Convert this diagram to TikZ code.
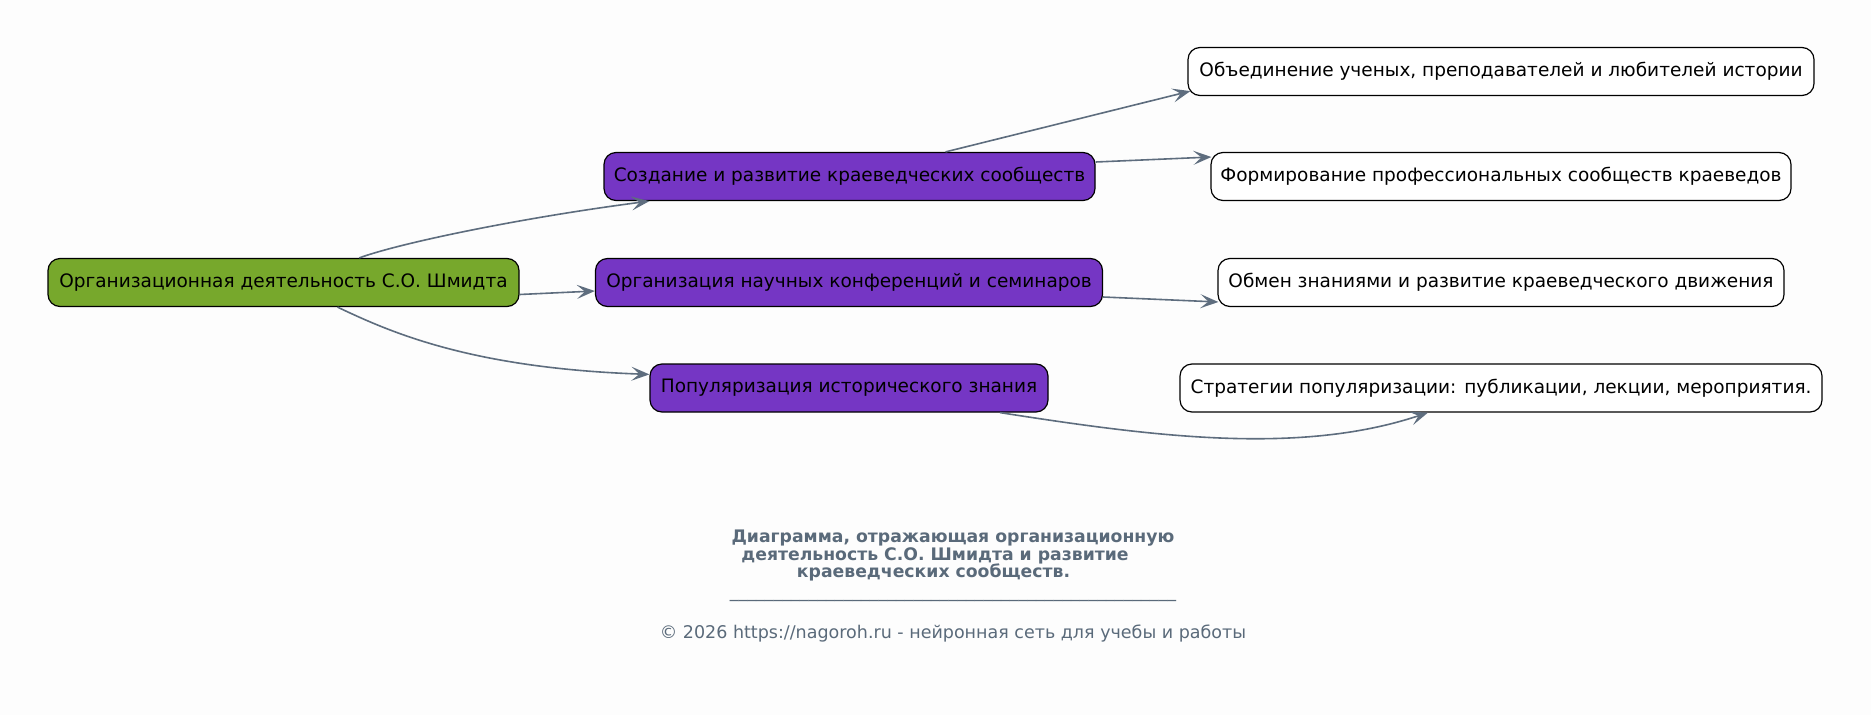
\documentclass[tikz,border=0pt]{standalone}
\usepackage{fontspec}
\setmainfont{DejaVu Sans}
\usetikzlibrary{arrows.meta,calc}
\definecolor{bgc}{RGB}{253,253,253}
\definecolor{rootc}{RGB}{119,168,44}
\definecolor{midc}{RGB}{117,54,196}
\definecolor{edgec}{RGB}{94,109,126}
\definecolor{titlec}{RGB}{90,106,122}
\tikzset{
 box/.style={draw=black, line width=1.2pt, rounded corners=12pt, minimum height=48pt, inner sep=0pt, font=\fontsize{18.5}{22}\selectfont, text=black},
 rootbox/.style={box, fill=rootc},
 midbox/.style={box, fill=midc},
 leafbox/.style={box, fill=white},
 conn/.style={draw=edgec, line width=1.6pt, -{Stealth[length=18pt,width=14pt,inset=8pt]}},
 titletext/.style={text=titlec, font=\fontsize{17.25}{17.5}\selectfont\bfseries, align=center, inner sep=0pt},
 foottext/.style={text=titlec, font=\fontsize{17.5}{19}\selectfont, inner sep=0pt},
}
\begin{document}
\begin{tikzpicture}[x=1pt,y=-1pt]
\path[fill=bgc] (0,0) rectangle (1871,715);
\useasboundingbox (0,0) rectangle (1871,715);
\node[rootbox, minimum width=471pt] (root) at (283.5,282.5) {Организационная деятельность С.О. Шмидта};
\node[midbox, minimum width=491pt] (crea) at (849.5,176.5) {Создание и развитие краеведческих сообществ};
\node[midbox, minimum width=507pt] (orgn) at (849,282.5) {Организация научных конференций и семинаров};
\node[midbox, minimum width=398pt] (popu) at (849,388) {Популяризация исторического знания};
\node[leafbox, minimum width=626pt] (unify) at (1501,71.5) {Объединение ученых, преподавателей и любителей истории};
\node[leafbox, minimum width=580pt] (form) at (1501,176.5) {Формирование профессиональных сообществ краеведов};
\node[leafbox, minimum width=566pt] (exch) at (1501,282.5) {Обмен знаниями и развитие краеведческого движения};
\node[leafbox, minimum width=642pt] (strat) at (1501,388) {Стратегии популяризации: публикации, лекции, мероприятия.};
\draw[conn] (root.18.7) .. controls (400,243) and (520,218) .. ([xshift=46pt]crea.south west);
\draw[conn] ([yshift=-12pt]root.east) -- ([yshift=-8.5pt]orgn.west);
\draw[conn] ([xshift=54pt]root.south) .. controls (390,332) and (470,368) .. ([yshift=-11pt]popu.north west);
\draw[conn] ([xshift=96pt]crea.north) -- ([xshift=3pt,yshift=5pt]unify.south west);
\draw[conn] ([yshift=14.5pt]crea.east) -- ([xshift=1pt,yshift=19.5pt]form.west);
\draw[conn] ([yshift=-14.5pt]orgn.east) -- ([xshift=1pt,yshift=-19.5pt]exch.west);
\draw[conn] ([xshift=151pt]popu.south) .. controls (1150,436) and (1298,456) .. ([xshift=-73pt]strat.south);
\node[titletext] (title) at (953,555.5) {Диаграмма, отражающая организационную\\деятельность С.О. Шмидта и развитие\rule{36pt}{0pt}\\краеведческих сообществ.\rule{39pt}{0pt}};
\node[foottext] (rule) at (953,599.5) {\_\_\_\_\_\_\_\_\_\_\_\_\_\_\_\_\_\_\_\_\_\_\_\_\_\_\_\_\_\_\_\_\_\_\_\_\_\_\_\_\_\_\_\_\_\_\_\_\_\_\_};
\node[foottext] (copy) at (953,633.5) {© 2026 https://nagoroh.ru - нейронная сеть для учебы и работы};
\end{tikzpicture}
\end{document}
